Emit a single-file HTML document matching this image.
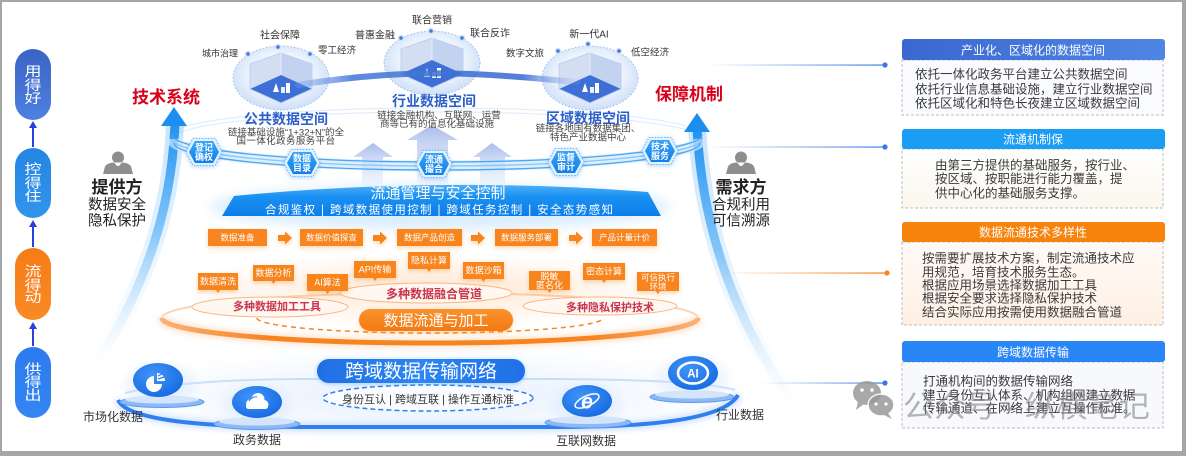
<!DOCTYPE html>
<html><head><meta charset="utf-8"><title>diagram</title>
<style>
html,body{margin:0;padding:0;background:#fff;width:1186px;height:456px;overflow:hidden;}
svg{display:block;}
text{font-family:"Liberation Sans","Noto Sans CJK SC",sans-serif;}
</style></head><body>
<svg width="1186" height="456" viewBox="0 0 1186 456" xmlns="http://www.w3.org/2000/svg">
<defs>
<linearGradient id="gP1" x1="0" y1="0" x2="0" y2="1"><stop offset="0" stop-color="#3a64c6"/><stop offset="1" stop-color="#4d80df"/></linearGradient>
<linearGradient id="gP2" x1="0" y1="0" x2="0" y2="1"><stop offset="0" stop-color="#2585e4"/><stop offset="1" stop-color="#3194ec"/></linearGradient>
<linearGradient id="gP3" x1="0" y1="0" x2="0" y2="1"><stop offset="0" stop-color="#f57c18"/><stop offset="1" stop-color="#f98a25"/></linearGradient>
<linearGradient id="gP4" x1="0" y1="0" x2="0" y2="1"><stop offset="0" stop-color="#2c7bef"/><stop offset="1" stop-color="#3486f2"/></linearGradient>
<linearGradient id="gShL" gradientUnits="userSpaceOnUse" x1="0" y1="120" x2="0" y2="365"><stop offset="0" stop-color="#1b8ff0"/><stop offset="0.45" stop-color="#6cbaf7" stop-opacity="0.8"/><stop offset="1" stop-color="#d8ecfd" stop-opacity="0"/></linearGradient>
<linearGradient id="gShR" gradientUnits="userSpaceOnUse" x1="0" y1="125" x2="0" y2="405"><stop offset="0" stop-color="#1b8ff0"/><stop offset="0.45" stop-color="#6cbaf7" stop-opacity="0.8"/><stop offset="1" stop-color="#d8ecfd" stop-opacity="0"/></linearGradient>
<radialGradient id="gSph" cx="0.5" cy="0.45" r="0.55"><stop offset="0" stop-color="#ffffff"/><stop offset="0.6" stop-color="#eef4fd"/><stop offset="1" stop-color="#cddff8"/></radialGradient>
<linearGradient id="gBand" x1="0" y1="0" x2="0" y2="1"><stop offset="0" stop-color="#4fb0f7"/><stop offset="0.35" stop-color="#1c92f2"/><stop offset="1" stop-color="#0b7ee9"/></linearGradient>
<linearGradient id="gUp" x1="0" y1="0" x2="0" y2="1"><stop offset="0" stop-color="#a9bdec"/><stop offset="1" stop-color="#e9effb" stop-opacity="0.5"/></linearGradient>
<linearGradient id="gHex" x1="0" y1="0" x2="0" y2="1"><stop offset="0" stop-color="#3aa5f8"/><stop offset="1" stop-color="#0f7fe9"/></linearGradient>
<linearGradient id="gCB" x1="0" y1="0" x2="1" y2="0"><stop offset="0" stop-color="#4a86e8" stop-opacity="0"/><stop offset="1" stop-color="#4a86e8"/></linearGradient>
<linearGradient id="gCO" x1="0" y1="0" x2="1" y2="0"><stop offset="0" stop-color="#f7841f" stop-opacity="0"/><stop offset="1" stop-color="#f7841f"/></linearGradient>
<linearGradient id="gLink" gradientUnits="userSpaceOnUse" x1="295" y1="0" x2="580" y2="0"><stop offset="0" stop-color="#7aa3e6" stop-opacity="0.3"/><stop offset="0.2" stop-color="#4a7ed9" stop-opacity="0.9"/><stop offset="0.8" stop-color="#3568cf" stop-opacity="0.85"/><stop offset="1" stop-color="#8fb1ec" stop-opacity="0.1"/></linearGradient>
<radialGradient id="gIcon" cx="0.4" cy="0.35" r="0.75"><stop offset="0" stop-color="#3f95f7"/><stop offset="1" stop-color="#1467e0"/></radialGradient>
<radialGradient id="gGlowB" cx="0.5" cy="0.5" r="0.5"><stop offset="0" stop-color="#cfe2fc" stop-opacity="0.9"/><stop offset="1" stop-color="#cfe2fc" stop-opacity="0"/></radialGradient>
<radialGradient id="gGlowO" cx="0.5" cy="0.5" r="0.5"><stop offset="0" stop-color="#ffe3cc" stop-opacity="0.9"/><stop offset="1" stop-color="#ffe3cc" stop-opacity="0"/></radialGradient>
<linearGradient id="gRingO" gradientUnits="userSpaceOnUse" x1="160" y1="0" x2="700" y2="0"><stop offset="0" stop-color="#fbb27a"/><stop offset="0.2" stop-color="#f7841f"/><stop offset="0.8" stop-color="#f7841f"/><stop offset="1" stop-color="#fbb27a"/></linearGradient>
<linearGradient id="gPill" x1="0" y1="0" x2="0" y2="1"><stop offset="0" stop-color="#fa922e"/><stop offset="1" stop-color="#f47912"/></linearGradient>
<linearGradient id="gNet" x1="0" y1="0" x2="1" y2="0"><stop offset="0" stop-color="#1f6fe6"/><stop offset="0.5" stop-color="#2d86f3"/><stop offset="1" stop-color="#1f6fe6"/></linearGradient>
<linearGradient id="gH1" x1="0" y1="0" x2="1" y2="0"><stop offset="0" stop-color="#3a68d0"/><stop offset="1" stop-color="#4f86e4"/></linearGradient>
<linearGradient id="gB3" x1="0" y1="0" x2="0" y2="1"><stop offset="0" stop-color="#fffaf6"/><stop offset="1" stop-color="#fff0e4"/></linearGradient>
<linearGradient id="gB2" x1="0" y1="0" x2="0" y2="1"><stop offset="0" stop-color="#ffffff"/><stop offset="1" stop-color="#fbf7ee"/></linearGradient>
<filter id="dsO" x="-40%" y="-60%" width="180%" height="220%"><feDropShadow dx="0" dy="2" stdDeviation="2.5" flood-color="#f7841f" flood-opacity="0.35"/></filter>
<filter id="dsB" x="-40%" y="-60%" width="180%" height="220%"><feDropShadow dx="0" dy="1" stdDeviation="2.5" flood-color="#2d8af0" flood-opacity="0.4"/></filter>
<filter id="bl6" x="-30%" y="-50%" width="160%" height="200%"><feGaussianBlur stdDeviation="6"/></filter>
<filter id="bl3" x="-30%" y="-50%" width="160%" height="200%"><feGaussianBlur stdDeviation="3"/></filter>
<g id="sph">
 <ellipse cx="0" cy="0" rx="48" ry="32" fill="url(#gSph)"/>
 <ellipse cx="0" cy="0" rx="48" ry="32" fill="none" stroke="#9fbdec" stroke-width="1" stroke-dasharray="1.5 2"/>
 <polygon points="-31,-14 0,-25 0,-3 -31,11" fill="#d3def3"/>
 <polygon points="0,-25 31,-14 31,11 0,-3" fill="#c2d2ef"/>
 <polygon points="-31,11 0,-3 31,11 0,25" fill="#3d6fd6"/>
 <polygon points="-31,-14 0,-25 31,-14 31,11 0,25 -31,11" fill="none" stroke="#bcd0f1" stroke-width="1"/>
 <line x1="0" y1="-25" x2="0" y2="-3" stroke="#e6eefb"/>
 <rect x="5" y="5" width="4" height="10" fill="#fff"/>
 <rect x="0" y="9" width="4" height="6" fill="#e8f0ff"/>
 <path d="M-8,14 L-5,5 L-2,14 Z" fill="#fff"/>
</g>
<g id="hex">
 <polygon points="-18,0 -11,-13.5 11,-13.5 18,0 11,13.5 -11,13.5" fill="#e3f1fe" stroke="#6db6f6" stroke-width="1" stroke-dasharray="1.5 1.5"/>
 <polygon points="-15,0 -9,-11 9,-11 15,0 9,11 -9,11" fill="url(#gHex)"/>
</g>
</defs>

<!-- background & frame -->
<rect x="0" y="0" width="1186" height="456" fill="#fff"/>
<rect x="1" y="1" width="1183" height="452" fill="none" stroke="#a6a6a6" stroke-width="2"/>
<rect x="0" y="451" width="1186" height="5" fill="#a6a6a6"/>
<rect x="1182" y="0" width="4" height="456" fill="#a6a6a6"/>

<!-- glows -->
<ellipse cx="440" cy="207" rx="230" ry="22" fill="#cfe8fc" filter="url(#bl6)" opacity="0.8"/>
<ellipse cx="430" cy="290" rx="255" ry="38" fill="url(#gGlowO)"/>
<ellipse cx="430" cy="395" rx="330" ry="48" fill="url(#gGlowB)" opacity="0.6"/>

<!-- big arrow shafts -->
<path d="M175,124 Q170,250 97,362" stroke="url(#gShL)" stroke-width="18" fill="none" opacity="0.25"/>
<path d="M175,124 Q170,250 97,362" stroke="url(#gShL)" stroke-width="9" fill="none"/>
<path d="M697,128 Q705,280 795,405" stroke="url(#gShR)" stroke-width="18" fill="none" opacity="0.25"/>
<path d="M697,128 Q705,280 795,405" stroke="url(#gShR)" stroke-width="9" fill="none"/>

<!-- spheres -->
<use href="#sph" x="281" y="78"/>
<use href="#sph" x="432" y="63"/>
<use href="#sph" x="590" y="78"/>
<path d="M298,85 C360,75 420,72 470,74 C520,76 550,80 578,82" stroke="url(#gLink)" stroke-width="6" fill="none" stroke-linecap="round"/>

<!-- sphere labels & dots -->
<g fill="#3f78d8" stroke="#d3e3f9" stroke-width="1.5">
<circle cx="248" cy="54" r="2.5"/><circle cx="278" cy="47" r="2.5"/><circle cx="310" cy="54" r="2.5"/>
<circle cx="401" cy="38" r="2.5"/><circle cx="431" cy="31" r="2.5"/><circle cx="462" cy="38" r="2.5"/>
<circle cx="558" cy="51" r="2.5"/><circle cx="588" cy="44" r="2.5"/><circle cx="619" cy="51" r="2.5"/>
</g>
<g font-size="9.5" fill="#333" text-anchor="middle">
<text x="220" y="56.5" font-size="9">城市治理</text>
<text x="280" y="38.5" font-size="10">社会保障</text>
<text x="337" y="53.5">零工经济</text>
<text x="375" y="38.5" font-size="10">普惠金融</text>
<text x="432" y="23.5" font-size="10">联合营销</text>
<text x="490" y="36.5" font-size="10">联合反诈</text>
<text x="589" y="37.5" font-size="10">新一代AI</text>
<text x="525" y="56.5">数字文旅</text>
<text x="650" y="55.5">低空经济</text>
</g>

<!-- ring back arcs -->
<g fill="none" stroke="#62b0f5" stroke-width="1.2" opacity="0.2">
<path d="M172,135 A265,27 0 0 1 702,135"/>
<path d="M172,139 A265,27 0 0 1 702,139"/>
</g>

<!-- up arrows -->
<polygon points="362,186 362,157 353,157 373,143 393,157 383,157 383,186" fill="url(#gUp)"/>
<polygon points="417,186 417,140 407,140 432,125 458,140 448,140 448,186" fill="url(#gUp)"/>
<polygon points="480,186 480,157 473,157 492,143 512,157 505,157 505,186" fill="url(#gUp)"/>

<!-- ring front arcs -->
<path d="M172,139 A265,27 0 0 0 702,139" fill="none" stroke="#cfe7fc" stroke-width="11" opacity="0.7"/>
<g fill="none" stroke="#4aa6f3" stroke-width="1.3">
<path d="M172,135 A265,27 0 0 0 702,135"/>
<path d="M172,139 A265,27 0 0 0 702,139" stroke="#86c6f8"/>
<path d="M174,143 A263,27 0 0 0 700,143"/>
</g>

<!-- titles of spaces -->
<g text-anchor="middle">
<text x="286" y="124" font-size="14" font-weight="bold" fill="#2d5fc8">公共数据空间</text>
<text x="286" y="135.5" font-size="9.5" fill="#444">链接基础设施“1+32+N”的全</text>
<text x="286" y="144" font-size="9.5" fill="#444" letter-spacing="0.4">国一体化政务服务平台</text>
<text x="434" y="106" font-size="14" font-weight="bold" fill="#2d5fc8">行业数据空间</text>
<text x="439" y="118.5" font-size="9.5" fill="#444">链接金融机构、互联网、运营</text>
<text x="437" y="127" font-size="9.5" fill="#444">商等已有的信息化基础设施</text>
<text x="588" y="123" font-size="14" font-weight="bold" fill="#2d5fc8">区域数据空间</text>
<text x="588" y="131.5" font-size="9.5" fill="#444">链接各地国有数据集团、</text>
<text x="588" y="140.5" font-size="9.5" fill="#444">特色产业数据中心</text>
</g>

<!-- band -->
<path d="M222,216 L234,196 Q440,176 648,192 L661,216 Z" fill="url(#gBand)"/>
<text x="438" y="198" font-size="15" fill="#fff" text-anchor="middle">流通管理与安全控制</text>
<text x="265" y="213.5" font-size="11.5" fill="#fff" textLength="348" lengthAdjust="spacing">合规鉴权 | 跨域数据使用控制 | 跨域任务控制 | 安全态势感知</text>

<!-- hexagons -->
<g filter="url(#dsB)">
<use href="#hex" x="204" y="152"/>
<use href="#hex" x="302" y="163"/>
<use href="#hex" x="434" y="164"/>
<use href="#hex" x="566" y="162"/>
<use href="#hex" x="660" y="151"/>
</g>
<g font-size="9" font-weight="bold" fill="#fff" text-anchor="middle">
<text x="204" y="150.5">登记</text><text x="204" y="160">确权</text>
<text x="302" y="161.5">数据</text><text x="302" y="171">目录</text>
<text x="434" y="162.5">流通</text><text x="434" y="172">撮合</text>
<text x="566" y="160.5">监督</text><text x="566" y="170">审计</text>
<text x="660" y="149.5">技术</text><text x="660" y="159">服务</text>
</g>

<!-- process row -->
<g filter="url(#dsO)" fill="#f7841f">
<rect x="208" y="229" width="59" height="17"/>
<rect x="300" y="229" width="63" height="17"/>
<rect x="397" y="229" width="65" height="17"/>
<rect x="495" y="229" width="63" height="17"/>
<rect x="592" y="229" width="65" height="17"/>
<polygon points="278,235 285,235 285,231.5 292,238 285,244.5 285,241 278,241"/>
<polygon points="373,235 380,235 380,231.5 387,238 380,244.5 380,241 373,241"/>
<polygon points="471,235 478,235 478,231.5 485,238 478,244.5 478,241 471,241"/>
<polygon points="569,235 576,235 576,231.5 583,238 576,244.5 576,241 569,241"/>
</g>
<g font-size="8.5" fill="#fff" text-anchor="middle">
<text x="237.5" y="240.5">数据准备</text>
<text x="331.5" y="240.5">数据价值探查</text>
<text x="429.5" y="240.5">数据产品创造</text>
<text x="526.5" y="240.5">数据服务部署</text>
<text x="624.5" y="240.5">产品计量计价</text>
</g>

<!-- orange ring back -->
<path d="M162,318 A268,25 0 0 1 698,318" fill="none" stroke="#f9a25a" stroke-width="2" opacity="0.45"/>

<!-- ellipses -->
<g fill="#fff7f0" stroke="#f6b888" stroke-width="1">
<ellipse cx="270" cy="307" rx="78" ry="10"/>
<ellipse cx="426" cy="293" rx="86" ry="10"/>
<ellipse cx="600" cy="306" rx="77" ry="9"/>
</g>
<g font-weight="bold" fill="#c8354d" text-anchor="middle">
<text x="277" y="310" font-size="11">多种数据加工工具</text>
<text x="434" y="298" font-size="12">多种数据融合管道</text>
<text x="610" y="311" font-size="11">多种隐私保护技术</text>
</g>

<!-- tags -->
<g filter="url(#dsO)" fill="#f7841f">
<rect x="198" y="273" width="40" height="17"/><polygon points="216,290 220,290 218,293"/>
<rect x="253" y="265" width="41" height="16"/><polygon points="271.5,281 275.5,281 273.5,284"/>
<rect x="307" y="274" width="41" height="17"/><polygon points="325.5,291 329.5,291 327.5,294"/>
<rect x="354" y="261" width="42" height="17"/><polygon points="373,278 377,278 375,281"/>
<rect x="408" y="252" width="42" height="17"/><polygon points="427,269 431,269 429,272"/>
<rect x="463" y="262" width="41" height="17"/><polygon points="481.5,279 485.5,279 483.5,282"/>
<rect x="529" y="271" width="41" height="19"/><polygon points="547.5,290 551.5,290 549.5,293"/>
<rect x="583" y="263" width="42" height="17"/><polygon points="602,280 606,280 604,283"/>
<rect x="637" y="272" width="42" height="19"/><polygon points="656,291 660,291 658,294"/>
</g>
<g font-size="9" fill="#fff" text-anchor="middle">
<text x="218" y="284.5">数据清洗</text>
<text x="273.5" y="276">数据分析</text>
<text x="327.5" y="285.5">AI算法</text>
<text x="375" y="272.5">API传输</text>
<text x="429" y="263.5">隐私计算</text>
<text x="483.5" y="273.5">数据沙箱</text>
<text x="549.5" y="279.5">脱敏</text><text x="549.5" y="288.5">匿名化</text>
<text x="604" y="274.5">密态计算</text>
<text x="658" y="280.5" font-size="8.5">可信执行</text><text x="658" y="289.5" font-size="8.5">环境</text>
</g>

<!-- orange ring front -->
<path d="M162,318 A268,25 0 0 0 698,318" fill="none" stroke="#fbc9a0" stroke-width="10" opacity="0.5" filter="url(#bl3)"/>
<path d="M162,318 A268,25 0 0 0 698,318" fill="none" stroke="url(#gRingO)" stroke-width="5"/>
<path d="M257,318 A173,15 0 0 0 603,318" fill="none" stroke="#f7841f" stroke-width="1.5" stroke-dasharray="5 4"/>
<rect x="359" y="309" width="154" height="22" rx="11" fill="url(#gPill)" filter="url(#dsO)"/>
<text x="436" y="325.5" font-size="15" fill="#fff" text-anchor="middle">数据流通与加工</text>

<!-- bottom ring -->
<path d="M125,393 Q180,380 300,379 L560,379 Q700,380 735,390" fill="none" stroke="#b5d3f8" stroke-width="2" opacity="0.7"/>
<path d="M118,400 Q130,427 300,427 L560,427 Q720,427 738,395" fill="none" stroke="#a9cbf8" stroke-width="9" opacity="0.5" filter="url(#bl3)"/>
<path d="M118,400 Q130,427 300,427 L560,427 Q720,427 738,395" fill="none" stroke="#2f7ff0" stroke-width="4"/>

<!-- network pill -->
<rect x="317" y="359" width="208" height="24" rx="12" fill="url(#gNet)" filter="url(#dsB)"/>
<text x="421" y="377.5" font-size="19" fill="#fff" text-anchor="middle">跨域数据传输网络</text>
<ellipse cx="428" cy="398" rx="105" ry="13" fill="#fff" fill-opacity="0.75" stroke="#2f7ff0" stroke-width="1.5" stroke-dasharray="5 3"/>
<text x="428" y="403" font-size="11" fill="#333" text-anchor="middle">身份互认 | 跨域互联 | 操作互通标准</text>

<!-- icons -->
<g>
<ellipse cx="160" cy="385" rx="42" ry="28" fill="url(#gGlowB)"/>
<ellipse cx="162" cy="402" rx="42" ry="5.5" fill="#8db9f6" stroke="#5b97ef" stroke-width="1"/>
<ellipse cx="162" cy="399.5" rx="37" ry="4" fill="#d3e4fc"/>
<ellipse cx="158" cy="380" rx="25" ry="17" fill="url(#gIcon)"/>
<path d="M154,384 L154,376 A8,8 0 1 0 162,384 Z" fill="#fff"/>
<path d="M157,381 L157,373 A8,8 0 0 1 165,381 Z" fill="#fff"/>
<line x1="158" y1="376" x2="162" y2="374" stroke="#2a7cec" stroke-width="1.2"/>
<line x1="158" y1="379" x2="164" y2="377" stroke="#2a7cec" stroke-width="1.2"/>

<ellipse cx="257" cy="406" rx="42" ry="28" fill="url(#gGlowB)"/>
<ellipse cx="257" cy="424" rx="43" ry="5.5" fill="#8db9f6" stroke="#5b97ef" stroke-width="1"/>
<ellipse cx="257" cy="421.5" rx="38" ry="4" fill="#d3e4fc"/>
<ellipse cx="257" cy="402" rx="25" ry="16" fill="url(#gIcon)"/>
<g fill="#fff"><circle cx="251" cy="404" r="5"/><circle cx="258" cy="399.5" r="6.5"/><circle cx="264" cy="404.5" r="4.5"/><rect x="246" y="404" width="22" height="5" rx="2.5"/></g>
<path d="M249,401 Q252,396 257,397" stroke="#2a7cec" stroke-width="1" fill="none"/>

<ellipse cx="587" cy="405" rx="42" ry="28" fill="url(#gGlowB)"/>
<ellipse cx="588" cy="422.5" rx="43" ry="5.5" fill="#8db9f6" stroke="#5b97ef" stroke-width="1"/>
<ellipse cx="588" cy="420" rx="38" ry="4" fill="#d3e4fc"/>
<ellipse cx="587" cy="401" rx="25" ry="16" fill="url(#gIcon)"/>
<ellipse cx="587" cy="401" rx="13" ry="5" fill="none" stroke="#fff" stroke-width="1.5" transform="rotate(-25 587 401)"/>
<text x="587" y="408.5" font-size="21" font-weight="bold" font-style="italic" fill="#fff" text-anchor="middle">e</text>

<ellipse cx="693" cy="378" rx="42" ry="28" fill="url(#gGlowB)"/>
<ellipse cx="692" cy="397" rx="42" ry="5.5" fill="#8db9f6" stroke="#5b97ef" stroke-width="1"/>
<ellipse cx="692" cy="394.5" rx="37" ry="4" fill="#d3e4fc"/>
<ellipse cx="693" cy="373" rx="25" ry="17" fill="url(#gIcon)"/>
<ellipse cx="693" cy="373" rx="15" ry="10.5" fill="none" stroke="#fff" stroke-width="2.5"/>
<text x="693" y="377.5" font-size="11.5" font-weight="bold" fill="#fff" text-anchor="middle">AI</text>
</g>
<g font-size="12" fill="#333" text-anchor="middle">
<text x="113" y="421">市场化数据</text>
<text x="257" y="444">政务数据</text>
<text x="586" y="445">互联网数据</text>
<text x="740" y="419">行业数据</text>
</g>

<!-- arrow heads & red titles -->
<polygon points="161,126 187,126 174,107" fill="#1a8ff0"/>
<polygon points="684,132 710,132 697,113" fill="#1a8ff0"/>
<text x="166" y="103" font-size="17" font-weight="bold" fill="#d8001a" text-anchor="middle">技术系统</text>
<text x="689" y="100" font-size="17" font-weight="bold" fill="#d8001a" text-anchor="middle">保障机制</text>

<!-- left pills -->
<rect x="15" y="49" width="36" height="71" rx="18" fill="url(#gP1)"/>
<rect x="15" y="148" width="36" height="70" rx="18" fill="url(#gP2)"/>
<rect x="15" y="248" width="36" height="72" rx="18" fill="url(#gP3)"/>
<rect x="15" y="347" width="36" height="71" rx="18" fill="url(#gP4)"/>
<g font-size="17" fill="#fff" text-anchor="middle">
<text transform="translate(33,76) scale(1,0.8)">用</text><text transform="translate(33,90) scale(1,0.8)">得</text><text transform="translate(33,103) scale(1,0.8)">好</text>
<text transform="translate(33,174) scale(1,0.8)">控</text><text transform="translate(33,188) scale(1,0.8)">得</text><text transform="translate(33,201) scale(1,0.8)">住</text>
<text transform="translate(33,276) scale(1,0.8)">流</text><text transform="translate(33,290) scale(1,0.8)">得</text><text transform="translate(33,302) scale(1,0.8)">动</text>
<text transform="translate(33,374) scale(1,0.8)">供</text><text transform="translate(33,387) scale(1,0.8)">得</text><text transform="translate(33,400) scale(1,0.8)">出</text>
</g>
<g stroke="#2a3fe0" stroke-width="2">
<line x1="33" y1="147" x2="33" y2="127"/>
<line x1="33" y1="247" x2="33" y2="226"/>
<line x1="33" y1="346" x2="33" y2="328"/>
</g>
<g fill="#2a3fe0">
<polygon points="29,128 37,128 33,121"/>
<polygon points="29,227 37,227 33,220"/>
<polygon points="29,329 37,329 33,322"/>
</g>

<!-- persons -->
<g fill="#8e8e8e">
<circle cx="118" cy="157.5" r="6"/>
<path d="M103,174 L105,166.5 Q107,163 113,162.5 L123,162.5 Q129,163 131,166.5 L133,174 Z"/>
<circle cx="741" cy="157.5" r="6"/>
<path d="M726,174 L728,166.5 Q730,163 736,162.5 L746,162.5 Q752,163 754,166.5 L756,174 Z"/>
</g>
<g fill="#fff"><polygon points="114,162.5 118,167 122,162.5"/><polygon points="737,162.5 741,167 745,162.5"/></g>
<g fill="#8e8e8e"><polygon points="117,166 119,166 120,172 118,174 116,172"/><polygon points="740,166 742,166 743,172 741,174 739,172"/></g>
<g text-anchor="middle" fill="#222">
<text x="117" y="193" font-size="17" font-weight="bold">提供方</text>
<text x="117" y="209.5" font-size="14.5">数据安全</text>
<text x="117" y="225.5" font-size="14.5">隐私保护</text>
<text x="741" y="193" font-size="17" font-weight="bold">需求方</text>
<text x="741" y="209.5" font-size="14.5">合规利用</text>
<text x="741" y="225.5" font-size="14.5">可信溯源</text>
</g>

<!-- connectors -->
<rect x="705" y="64.4" width="180" height="1.3" fill="url(#gCB)"/>
<rect x="705" y="146.4" width="180" height="1.3" fill="url(#gCB)"/>
<rect x="720" y="272.4" width="167" height="1.3" fill="url(#gCO)"/>
<rect x="760" y="382.4" width="125" height="1.3" fill="url(#gCB)"/>
<circle cx="885" cy="65" r="2.6" fill="#3a7ae0"/>
<circle cx="885" cy="147" r="2.6" fill="#3a7ae0"/>
<circle cx="887" cy="273" r="2.6" fill="#f7841f"/>
<circle cx="885" cy="383" r="2.6" fill="#3a7ae0"/>

<!-- right panels -->
<g>
<rect x="902" y="60" width="261" height="55" fill="#fafbfe" stroke="#bdbdbd" stroke-dasharray="3 2"/>
<rect x="902" y="39" width="263" height="21" rx="3" fill="url(#gH1)"/>
<rect x="902" y="149" width="261" height="59" fill="url(#gB2)" stroke="#bdbdbd" stroke-dasharray="3 2"/>
<rect x="902" y="129" width="263" height="20" rx="3" fill="#1a9df5"/>
<rect x="902" y="242" width="261" height="83" fill="url(#gB3)" stroke="#bdbdbd" stroke-dasharray="3 2"/>
<rect x="902" y="222" width="263" height="20" rx="3" fill="#f7820c"/>
<rect x="902" y="362" width="261" height="66" fill="#f8f9fd" stroke="#bdbdbd" stroke-dasharray="3 2"/>
<rect x="902" y="341" width="263" height="21" rx="3" fill="#2a86f7"/>
</g>
<g font-size="12" fill="#fff" text-anchor="middle">
<text x="1033" y="54.5">产业化、区域化的数据空间</text>
<text x="1033" y="143.5">流通机制保</text>
<text x="1033" y="236.5">数据流通技术多样性</text>
<text x="1033" y="356.5">跨域数据传输</text>
</g>
<g font-size="12.5" fill="#3a3a3a">
<text x="915" y="78.5">依托一体化政务平台建立公共数据空间</text>
<text x="915" y="93.5">依托行业信息基础设施，建立行业数据空间</text>
<text x="915" y="107.5">依托区域化和特色长夜建立区域数据空间</text>
<text x="935" y="169.5">由第三方提供的基础服务，按行业、</text>
<text x="935" y="183">按区域、按职能进行能力覆盖，提</text>
<text x="935" y="197.5">供中心化的基础服务支撑。</text>
<text x="922" y="262.5">按需要扩展技术方案，制定流通技术应</text>
<text x="922" y="276.5">用规范，培育技术服务生态。</text>
<text x="922" y="289.5">根据应用场景选择数据加工工具</text>
<text x="922" y="302.5">根据安全要求选择隐私保护技术</text>
<text x="922" y="316.5">结合实际应用按需使用数据融合管道</text>
<text x="923" y="385.5">打通机构间的数据传输网络</text>
<text x="923" y="399.5">建立身份互认体系、机构组网建立数据</text>
<text x="923" y="412.5">传输通道、在网络上建立互操作标准。</text>
</g>

<!-- watermark -->
<g fill="#9a9a9a" opacity="0.85">
<ellipse cx="867" cy="393" rx="14" ry="12"/>
<polygon points="858,402 856,410 864,404"/>
</g>
<g fill="#9a9a9a" stroke="#fff" stroke-width="1.5" opacity="0.85">
<ellipse cx="881" cy="405" rx="13" ry="11"/>
</g>
<polygon points="888,413 892,419 884,415" fill="#9a9a9a" opacity="0.85"/>
<g fill="#fff"><circle cx="862" cy="390" r="1.8"/><circle cx="872" cy="390" r="1.8"/><circle cx="876" cy="404" r="1.6"/><circle cx="886" cy="404" r="1.6"/></g>
<text x="903" y="417" font-size="30" fill="#7a7a7a" opacity="0.55" textLength="247" lengthAdjust="spacingAndGlyphs">公众号 · 纵横笔记</text>
</svg>
</body></html>
